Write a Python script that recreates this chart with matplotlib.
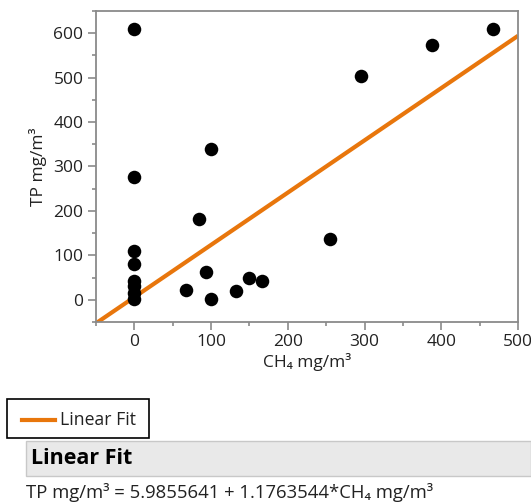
import numpy as np
import matplotlib
matplotlib.use("Agg")
import matplotlib.pyplot as plt
from matplotlib.patches import Rectangle

plt.rcParams['font.family'] = ['Open Sans', 'DejaVu Sans']

# veriler
ch4 = [0, 0, 0, 0, 0, 0, 0, 0, 100, 84, 93, 67, 100, 132, 150, 167, 295, 388, 467, 255]
tp = [610, 277, 110, 80, 43, 32, 15, 2, 339, 182, 63, 23, 1, 20, 50, 42, 504, 574, 610, 136]

intercept = 5.9855641
slope = 1.1763544

xticks = [0, 100, 200, 300, 400, 500]
yticks = [0, 100, 200, 300, 400, 500, 600]

W, H = 531, 503
fig = plt.figure(figsize=(W / 100, H / 100), dpi=100)
ax = fig.add_axes([96 / W, 1 - 322 / H, (518 - 96) / W, (322 - 11) / H])

ax.scatter(ch4, tp, s=95, color='black', zorder=3, linewidths=0)
xs = np.array([-50, 500])
ax.plot(xs, intercept + slope * xs, color='#E8760C', lw=3, zorder=2, solid_capstyle='butt')

ax.set_xlim(-50, 500)
ax.set_ylim(-50, 650)
ax.set_xticks(xticks)
ax.set_yticks(yticks)
ax.set_xticks(np.arange(-50, 501, 50), minor=True)
ax.set_yticks(np.arange(-50, 651, 50), minor=True)

gray = '#8a8a8a'
for s in ax.spines.values():
    s.set_color(gray)
    s.set_linewidth(1.3)
ax.tick_params(which='major', direction='out', length=6, width=1.2, color=gray,
               labelsize=12.5, labelcolor='#222222', pad=3)
ax.tick_params(which='minor', direction='out', length=3, width=1.2, color=gray)

ax.set_xlabel('CH₄ mg/m³', fontsize=12.5, color='#222222', labelpad=2)
ax.set_ylabel('TP mg/m³', fontsize=12.5, color='#222222', labelpad=5)

# legend kutusu
fig.patches.append(Rectangle((7 / W, 1 - 438 / H), 142 / W, 39 / H, transform=fig.transFigure,
                             facecolor='white', edgecolor='black', lw=1.2))
fig.lines.append(plt.Line2D([22 / W, 55 / W], [1 - 420 / H, 1 - 420 / H], transform=fig.transFigure,
                            color='#E8760C', lw=3))
fig.text(60 / W, 1 - 420 / H, 'Linear Fit', fontsize=12.7, va='center', ha='left', color='#222222')

# rapor basligi
fig.patches.append(Rectangle((26 / W, 1 - 476 / H), (531 - 26) / W, 35 / H, transform=fig.transFigure,
                             facecolor='#e9e9e9', edgecolor='#c8c8c8', lw=1))
fig.text(31 / W, 1 - 459 / H, 'Linear Fit', fontsize=15.5, fontweight='bold', va='center', ha='left',
         color='black')
fig.text(26 / W, 1 - 492 / H, 'TP mg/m³ = 5.9855641 + 1.1763544*CH₄ mg/m³', fontsize=13.3,
         va='center', ha='left', color='#222222')

fig.savefig('out.png', dpi=100)
